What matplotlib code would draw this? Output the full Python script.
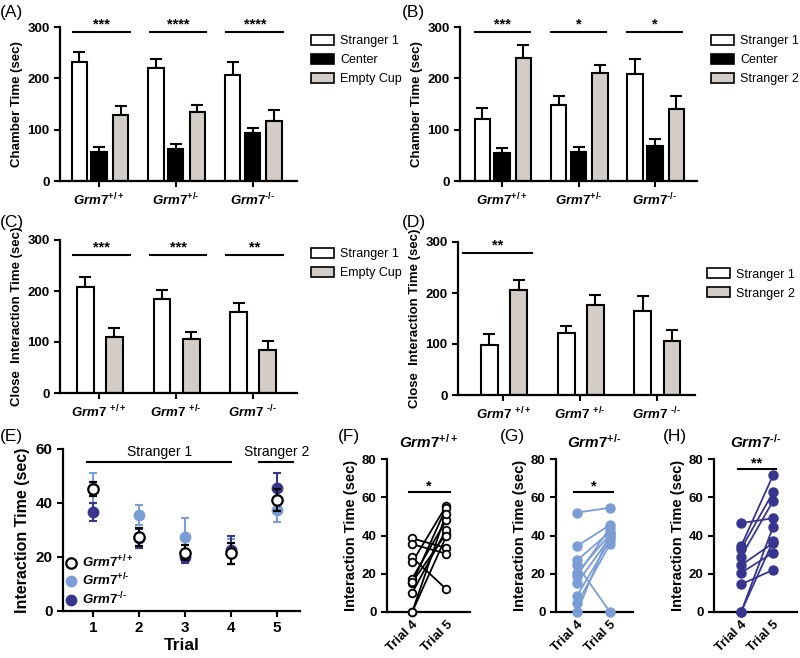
import numpy as np
import matplotlib.pyplot as plt
from matplotlib.patches import Patch
from matplotlib.lines import Line2D

plt.rcParams['font.family'] = ['Liberation Sans', 'DejaVu Sans']
plt.rcParams['mathtext.fontset'] = 'custom'
plt.rcParams['mathtext.it'] = 'Liberation Sans:italic:bold'
plt.rcParams['mathtext.rm'] = 'Liberation Sans:bold'
plt.rcParams['mathtext.bf'] = 'Liberation Sans:bold'

# ---- data ----
genotypes = ['+/+', '+/\u2010', '\u2010/\u2010']

a_str1 = [231, 220, 207]
a_str1_err = [20, 17, 24]
a_center = [57, 63, 93]
a_center_err = [9, 9, 11]
a_empty = [128, 134, 117]
a_empty_err = [19, 15, 21]
a_stars = ['***', '****', '****']

b_str1 = [121, 149, 208]
b_str1_err = [22, 16, 29]
b_center = [55, 57, 68]
b_center_err = [10, 10, 14]
b_str2 = [240, 210, 140]
b_str2_err = [24, 16, 25]
b_stars = ['***', '*', '*']

c_str1 = [208, 185, 159]
c_str1_err = [20, 17, 18]
c_empty = [110, 106, 85]
c_empty_err = [18, 14, 17]
c_stars = ['***', '***', '**']

d_str1 = [98, 121, 165]
d_str1_err = [21, 15, 29]
d_str2 = [205, 177, 105]
d_str2_err = [20, 19, 23]
d_stars = ['**', '', '']

trials = [1, 2, 3, 4, 5]
e_wt = [45.2, 27.4, 21.6, 21.3, 41.0]
e_wt_err = [2.6, 3.5, 2.8, 4.0, 4.1]
e_het = [45.5, 35.5, 27.5, 22.0, 37.4]
e_het_err = [5.5, 3.6, 7.0, 4.5, 4.3]
e_ko = [36.7, 27.0, 20.0, 22.5, 45.5]
e_ko_err = [3.2, 3.5, 2.3, 5.2, 5.5]

f_trial4 = [38.5, 35.5, 28.5, 26.0, 17.5, 15.0, 15.5, 10.0, 0.0, 0.0]
f_trial5 = [33.5, 30.5, 12.0, 55.5, 48.0, 54.5, 41.0, 43.0, 51.5, 39.5]

g_trial4 = [52.0, 34.5, 27.0, 24.5, 20.5, 19.0, 15.0, 8.5, 4.5, 0.0]
g_trial5 = [54.5, 45.5, 42.0, 0.0, 40.5, 44.0, 39.0, 37.5, 35.5, 41.5]

h_trial4 = [46.5, 34.5, 33.0, 29.0, 24.5, 20.5, 14.5, 0.0, 0.0]
h_trial5 = [49.0, 71.5, 62.5, 58.0, 36.0, 31.0, 22.0, 44.5, 37.0]

GRAY = '#d4cdc7'
LIGHT = '#7b9dd6'
NAVY = '#38358f'

fig = plt.figure(figsize=(8, 6.58), dpi=100)


def px_axes(x0, y0, x1, y1):
    return fig.add_axes([x0 / 800, 1 - y1 / 658, (x1 - x0) / 800, (y1 - y0) / 658])


def style(ax, fs=9.5):
    for s in ['top', 'right']:
        ax.spines[s].set_visible(False)
    for s in ['left', 'bottom']:
        ax.spines[s].set_linewidth(1.6)
    ax.tick_params(width=1.5, length=4, labelsize=fs)
    for t in ax.get_yticklabels():
        t.set_fontweight('bold')


def geno_label(g, space=False):
    if space:
        return r'$\mathit{Grm7}\ ^{' + g + '}$'
    return r'$\mathit{Grm7}^{' + g + '}$'


def bar_panel(ax, series, offsets, width, xlim, ylabel, stars, sig_x, sig_y, star_y,
              legend_labels, space=False):
    x = np.arange(3)
    for (vals, errs, color), off in zip(series, offsets):
        ax.bar(x + off, vals, width, color=color, edgecolor='black', linewidth=1.5, zorder=2)
        ax.errorbar(x + off, vals, yerr=[np.zeros(3), errs], fmt='none', ecolor='black',
                    elinewidth=1.5, capsize=4, capthick=1.5, zorder=1)
    ax.set_xlim(*xlim)
    ax.set_ylim(0, 300)
    ax.set_yticks([0, 100, 200, 300])
    ax.set_xticks(x)
    ax.set_xticklabels([geno_label(g, space) for g in genotypes], fontsize=11.5)
    ax.set_ylabel(ylabel, fontsize=9.5, fontweight='bold', labelpad=3)
    style(ax)
    for i, s in enumerate(stars):
        if not s:
            continue
        ax.plot([i + sig_x[0], i + sig_x[1]], [sig_y, sig_y], color='black', lw=1.5, clip_on=False)
        ax.text(i + (sig_x[0] + sig_x[1]) / 2, star_y, s, ha='center', va='baseline',
                fontsize=10.5, fontweight='bold', clip_on=False)
    handles = [Patch(facecolor=c, edgecolor='black', linewidth=1.2) for _, _, c in series]
    ax.legend(handles, legend_labels, loc='upper left', bbox_to_anchor=(1.04, 0.98),
              frameon=False, fontsize=9, handlelength=1.8, handleheight=0.8,
              labelspacing=0.55, handletextpad=0.5, borderaxespad=0)


def panel_letter(x, y, s):
    fig.text(x / 800, 1 - y / 658, s, fontsize=12.5, va='center', ha='left')


# (A)
axA = px_axes(60, 27, 297, 181)
bar_panel(axA, [(a_str1, a_str1_err, 'white'), (a_center, a_center_err, 'black'),
                (a_empty, a_empty_err, GRAY)],
          [-0.26, 0, 0.28], 0.2, (-0.51, 2.58), 'Chamber Time (sec)', a_stars,
          (-0.34, 0.4), 290, 297, ['Stranger 1', 'Center', 'Empty Cup'])
panel_letter(0, 12, '(A)')

# (B)
axB = px_axes(460, 27, 697, 181)
bar_panel(axB, [(b_str1, b_str1_err, 'white'), (b_center, b_center_err, 'black'),
                (b_str2, b_str2_err, GRAY)],
          [-0.26, 0, 0.28], 0.2, (-0.55, 2.55), 'Chamber Time (sec)', b_stars,
          (-0.36, 0.36), 290, 297, ['Stranger 1', 'Center', 'Stranger 2'])
panel_letter(402, 12, '(B)')

# (C)
axC = px_axes(60, 240, 297, 393)
bar_panel(axC, [(c_str1, c_str1_err, 'white'), (c_empty, c_empty_err, GRAY)],
          [-0.18, 0.2], 0.22, (-0.51, 2.58), 'Close  Interaction Time (sec)', c_stars,
          (-0.34, 0.4), 271, 278, ['Stranger 1', 'Empty Cup'], space=True)
panel_letter(0, 222, '(C)')

# (D)
axD = px_axes(458, 242, 695, 395)
bar_panel(axD, [(d_str1, d_str1_err, 'white'), (d_str2, d_str2_err, GRAY)],
          [-0.18, 0.2], 0.22, (-0.59, 2.5), 'Close  Interaction Time (sec)', d_stars,
          (-0.52, 0.38), 278, 285, ['Stranger 1', 'Stranger 2'], space=True)
axD.get_legend().set_bbox_to_anchor((1.03, 0.86))
panel_letter(402, 222, '(D)')

# (E)
axE = px_axes(63, 449, 300, 611)
axE.errorbar(trials, e_het, yerr=e_het_err, fmt='o', color=LIGHT, ms=7.5,
             elinewidth=1.5, capsize=3, capthick=1.5, zorder=2)
axE.errorbar(trials, e_ko, yerr=e_ko_err, fmt='o', color=NAVY, ms=7.5,
             elinewidth=1.5, capsize=3, capthick=1.5, zorder=3)
axE.errorbar(trials, e_wt, yerr=e_wt_err, fmt='o', color='black', mfc='white', mec='black',
             mew=1.6, ms=7.5, elinewidth=1.5, capsize=3, capthick=1.5, zorder=4)
axE.set_xlim(0.35, 5.5)
axE.set_ylim(0, 60)
axE.set_yticks([0, 20, 40, 60])
axE.set_xticks(trials)
style(axE, fs=11)
for t in axE.get_xticklabels():
    t.set_fontweight('bold')
axE.set_ylabel('Interaction Time (sec)', fontsize=11.5, fontweight='bold', labelpad=4)
axE.set_xlabel('Trial', fontsize=12.5, fontweight='bold', labelpad=2)
axE.plot([0.87, 4.0], [55.2, 55.2], color='black', lw=1.5, clip_on=False)
axE.plot([4.6, 5.35], [55.2, 55.2], color='black', lw=1.5, clip_on=False)
axE.text(2.45, 58.8, 'Stranger 1', ha='center', va='center', fontsize=10, clip_on=False)
axE.text(5.0, 58.8, 'Stranger 2', ha='center', va='center', fontsize=10, clip_on=False)
e_handles = [Line2D([], [], ls='none', marker='o', mfc='white', mec='black', mew=1.6, ms=7.5),
             Line2D([], [], ls='none', marker='o', color=LIGHT, ms=7.5),
             Line2D([], [], ls='none', marker='o', color=NAVY, ms=7.5)]
axE.legend(e_handles, [geno_label(g) for g in genotypes], loc='lower left',
           bbox_to_anchor=(-0.01, -0.01), frameon=False, fontsize=9.5, handlelength=0.8,
           handletextpad=0.4, labelspacing=0.15, borderaxespad=0)
panel_letter(0, 437, '(E)')


def pair_panel(ax, t4, t5, color, open_marker, xlim, title, sig_y, star, letter_xy):
    for a, b in zip(t4, t5):
        ax.plot([0, 1], [a, b], color=color, lw=1.3, zorder=2)
    if open_marker:
        ax.plot(np.zeros(len(t4)), t4, 'o', mfc='white', mec=color, mew=1.3, ms=5.5, zorder=3, clip_on=False)
        ax.plot(np.ones(len(t5)), t5, 'o', mfc='white', mec=color, mew=1.3, ms=5.5, zorder=3, clip_on=False)
    else:
        ax.plot(np.zeros(len(t4)), t4, 'o', color=color, ms=6.5, zorder=3, clip_on=False)
        ax.plot(np.ones(len(t5)), t5, 'o', color=color, ms=6.5, zorder=3, clip_on=False)
    ax.set_xlim(*xlim)
    ax.set_ylim(0, 80)
    ax.set_yticks([0, 20, 40, 60, 80])
    ax.set_xticks([0, 1])
    ax.set_xticklabels(['Trial 4', 'Trial 5'], rotation=45, ha='right', rotation_mode='anchor',
                       fontweight='bold')
    style(ax, fs=9.5)
    ax.tick_params(axis='x', length=0, pad=5)
    ax.set_ylabel('Interaction Time (sec)', fontsize=10.5, fontweight='bold', labelpad=3)
    ax.set_title(title, fontsize=11, pad=8)
    ax.plot([-0.1, 1.1], [sig_y, sig_y], color='black', lw=1.5, clip_on=False)
    ax.text(0.5, sig_y + 1, star, ha='center', va='baseline', fontsize=10.5, fontweight='bold',
            clip_on=False)
    panel_letter(letter_xy[0], letter_xy[1], letter_xy[2])


axF = px_axes(387, 459, 470, 612)
pair_panel(axF, f_trial4, f_trial5, 'black', True, (-0.74, 1.7), geno_label('+/+'),
           62.7, '*', (338, 437, '(F)'))

axG = px_axes(556, 459, 633, 612)
pair_panel(axG, g_trial4, g_trial5, LIGHT, False, (-0.64, 1.7), geno_label('+/\u2010'),
           62.7, '*', (500, 437, '(G)'))

axH = px_axes(714, 459, 797, 612)
pair_panel(axH, h_trial4, h_trial5, NAVY, False, (-0.85, 1.75), geno_label('\u2010/\u2010'),
           74.8, '**', (663, 437, '(H)'))

fig.savefig('out.png', dpi=100)
